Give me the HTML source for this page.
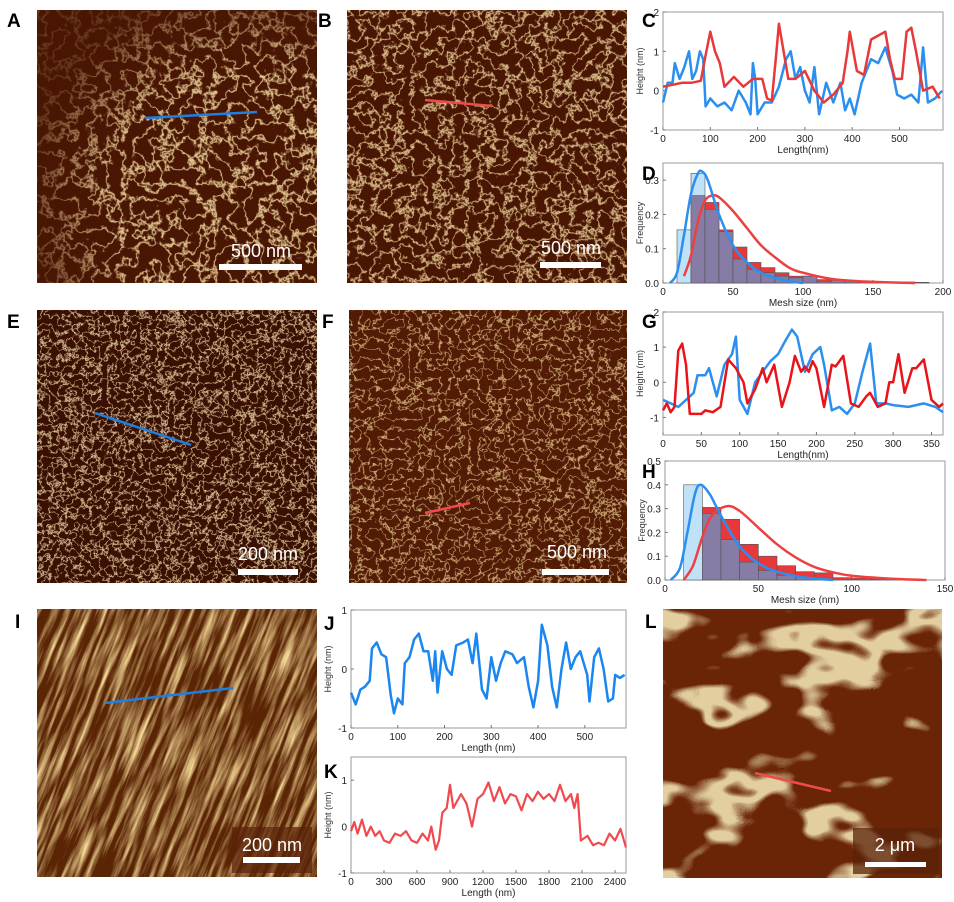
<!DOCTYPE html>
<html><head><meta charset="utf-8">
<style>
html,body{margin:0;padding:0;background:#fff;width:954px;height:902px;overflow:hidden;font-family:"Liberation Sans",Arial,sans-serif}
#fig{position:absolute;left:0;top:0;display:block}
</style></head><body>
<svg id="fig" width="954" height="902" viewBox="0 0 954 902" xmlns="http://www.w3.org/2000/svg">
<defs>
<filter id="fNet" x="0" y="0" width="1" height="1"><feTurbulence type="fractalNoise" baseFrequency="0.065" numOctaves="4" seed="3"/><feColorMatrix type="matrix" values="0 0 0 0 0.9 0 0 0 0 0.7 0 0 0 0 0.35 1.6 0 0 0 -0.3"/><feComponentTransfer><feFuncA type="table" tableValues="0 0 0 0 0 0 0 0.35 0.95 0.35 0 0 0 0 0 0 0"/></feComponentTransfer></filter>
<filter id="fNet2" x="0" y="0" width="1" height="1"><feTurbulence type="fractalNoise" baseFrequency="0.075" numOctaves="4" seed="8"/><feColorMatrix type="matrix" values="0 0 0 0 0.9 0 0 0 0 0.7 0 0 0 0 0.35 1.6 0 0 0 -0.3"/><feComponentTransfer><feFuncA type="table" tableValues="0 0 0 0 0 0 0 0.3 0.9 0.3 0 0 0 0 0 0 0"/></feComponentTransfer></filter>
<filter id="fDense" x="0" y="0" width="1" height="1"><feTurbulence type="fractalNoise" baseFrequency="0.12" numOctaves="4" seed="5"/><feColorMatrix type="matrix" values="0 0 0 0 0.92 0 0 0 0 0.75 0 0 0 0 0.42 1.6 0 0 0 -0.3"/><feComponentTransfer><feFuncA type="table" tableValues="0 0 0 0 0 0 0 0.3 0.9 0.3 0 0 0 0 0 0 0"/></feComponentTransfer></filter>
<filter id="fThin" x="0" y="0" width="1" height="1"><feTurbulence type="fractalNoise" baseFrequency="0.1" numOctaves="3" seed="11"/><feColorMatrix type="matrix" values="0 0 0 0 0.86 0 0 0 0 0.64 0 0 0 0 0.3 1.6 0 0 0 -0.3"/><feComponentTransfer><feFuncA type="table" tableValues="0 0 0 0 0 0 0 0.15 0.85 0.15 0 0 0 0 0 0 0"/></feComponentTransfer></filter>
<filter id="fStreak" x="0" y="0" width="1" height="1"><feTurbulence type="fractalNoise" baseFrequency="0.015 0.2" numOctaves="4" seed="4"/><feColorMatrix type="matrix" values="0 0 0 0 0.9 0 0 0 0 0.68 0 0 0 0 0.3 2.2 0 0 0 -0.85"/></filter>
<filter id="fSheet" x="0" y="0" width="1" height="1"><feTurbulence type="fractalNoise" baseFrequency="0.01 0.018" numOctaves="3" seed="7"/><feColorMatrix type="matrix" values="0 0 0 0 0.76 0 0 0 0 0.62 0 0 0 0 0.35 1 0 0 0 0"/><feComponentTransfer><feFuncA type="table" tableValues="0 0 0 0 0 0 0 0 0 1 1 0 0 0 0 0"/></feComponentTransfer></filter>
<radialGradient id="gA" cx="0.75" cy="0.7" r="0.8"><stop offset="0.6" stop-color="#fff"/><stop offset="1" stop-color="#333"/></radialGradient>
<mask id="mA"><rect x="37" y="10" width="280" height="273" fill="url(#gA)"/></mask>
<clipPath id="cI"><rect x="37" y="609" width="280" height="268"/></clipPath>
</defs>

<g>
<rect x="37" y="10" width="280" height="273" fill="#4a1604"/>
<rect x="37" y="10" width="280" height="273" filter="url(#fNet)" mask="url(#mA)"/>
<line x1="145" y1="118" x2="257" y2="112" stroke="#1e7fe0" stroke-width="2.5"/>
<text x="261" y="257" font-size="18" fill="#fff" text-anchor="middle">500 nm</text>
<rect x="219" y="264" width="83" height="6" fill="#fff"/>
</g>
<g>
<rect x="347" y="10" width="280" height="273" fill="#4a1604"/>
<rect x="347" y="10" width="280" height="273" filter="url(#fNet2)"/>
<line x1="425" y1="100" x2="492" y2="106" stroke="#ee4b4b" stroke-width="2.5"/>
<text x="571" y="254" font-size="18" fill="#fff" text-anchor="middle">500 nm</text>
<rect x="540" y="262" width="61" height="6" fill="#fff"/>
</g>
<g>
<rect x="37" y="310" width="280" height="273" fill="#3a1003"/>
<rect x="37" y="310" width="280" height="273" filter="url(#fDense)"/>
<line x1="95" y1="413" x2="191" y2="445" stroke="#1e7fe0" stroke-width="2.5"/>
<text x="268" y="560" font-size="18" fill="#fff" text-anchor="middle">200 nm</text>
<rect x="238" y="569" width="60" height="6" fill="#fff"/>
</g>
<g>
<rect x="349" y="310" width="278" height="273" fill="#521b05"/>
<rect x="349" y="310" width="278" height="273" filter="url(#fThin)"/>
<line x1="425" y1="513" x2="470" y2="503" stroke="#ee4b4b" stroke-width="2.5"/>
<text x="577" y="558" font-size="18" fill="#fff" text-anchor="middle">500 nm</text>
<rect x="542" y="569" width="67" height="6" fill="#fff"/>
</g>
<g clip-path="url(#cI)">
<rect x="37" y="609" width="280" height="268" fill="#5a2505"/>
<rect x="-30" y="560" width="420" height="380" filter="url(#fStreak)" transform="rotate(-68 177 743)"/>
<line x1="105" y1="703" x2="233" y2="688" stroke="#1e7fe0" stroke-width="2.5"/>
<rect x="232" y="827" width="80" height="46" fill="#5a2108" opacity="0.7"/>
<text x="272" y="851" font-size="18" fill="#fff" text-anchor="middle">200 nm</text>
<rect x="243" y="857" width="57" height="6" fill="#fff"/>
</g>
<g>
<rect x="663" y="609" width="279" height="269" fill="#6a2507"/>
<rect x="663" y="609" width="279" height="269" filter="url(#fSheet)"/>
<line x1="755" y1="773" x2="831" y2="791" stroke="#ee4b4b" stroke-width="2.5"/>
<rect x="853" y="828" width="86" height="46" fill="#5a2108" opacity="0.75"/>
<text x="895" y="851" font-size="18" fill="#fff" text-anchor="middle">2 μm</text>
<rect x="865" y="862" width="61" height="5" fill="#fff"/>
</g>

<g font-weight="bold" font-size="19" fill="#000">
<text x="7" y="27">A</text>
<text x="318" y="27">B</text>
<text x="642" y="27">C</text>
<text x="642" y="180">D</text>
<text x="7" y="328">E</text>
<text x="322" y="328">F</text>
<text x="642" y="328">G</text>
<text x="642" y="478">H</text>
<text x="15" y="628">I</text>
<text x="324" y="630">J</text>
<text x="324" y="778">K</text>
<text x="645" y="628">L</text>
</g>
<g id="charts"></g>
</svg>
<script>
const cRedX=[0,20,40,60,80,90,100,110,120,130,150,170,190,210,220,230,240,245,255,265,280,300,320,340,360,380,390,395,410,425,440,455,470,480,490,505,515,525,535,550,570,585];
const cRedY=[0.1,0.15,0.2,0.2,0.25,0.9,1.5,1.0,0.7,0.1,0.35,0.1,0.3,0.3,-0.2,-0.25,1.0,1.7,1.0,0.3,0.3,0.5,0.0,-0.3,-0.1,0.2,1.0,1.5,0.5,0.4,1.3,1.4,1.5,0.8,0.3,0.3,1.5,1.6,1.0,0.0,0.1,-0.2];
const cBlueX=[0,10,20,25,35,45,55,62,70,78,85,90,100,115,130,145,160,175,185,190,195,200,215,230,245,260,270,280,290,300,310,320,330,345,360,375,385,395,405,420,440,455,470,485,495,510,525,540,550,560,575,590];
const cBlueY=[-0.3,0.2,0.2,0.7,0.3,0.6,1.0,0.3,0.5,1.0,0.8,-0.4,-0.2,-0.4,-0.3,-0.5,0.0,-0.3,-0.6,0.7,0.3,-0.6,-0.3,-0.3,0.1,0.8,1.0,0.3,0.6,0.0,-0.3,0.6,-0.6,0.2,-0.3,0.2,-0.5,-0.2,-0.6,0.2,0.8,0.7,1.1,0.5,-0.1,-0.2,-0.1,-0.3,1.1,-0.3,-0.2,0.0];
const dBinStart=[10,20,30,40,50,60,70,80,90,100,110,120,130,140,150,160,170,180];
const dBlue=[0.155,0.32,0.215,0.15,0.07,0.04,0.03,0.02,0.015,0.02,0.005,0.01,0.005,0,0,0,0,0];
const dRed=[0,0.255,0.235,0.155,0.105,0.06,0.045,0.03,0.02,0.02,0.01,0.008,0.006,0.005,0.004,0.003,0.003,0.002];
const dFitBlueX=[5,10,15,20,25,28,32,40,50,60,70,80,90,100];
const dFitBlueY=[0,0.03,0.14,0.26,0.32,0.325,0.3,0.2,0.11,0.06,0.03,0.015,0.005,0];
const dFitRedX=[15,20,25,30,35,40,50,60,70,80,90,100,120,140,160,180];
const dFitRedY=[0.02,0.08,0.18,0.24,0.255,0.25,0.21,0.16,0.11,0.075,0.045,0.03,0.012,0.005,0.002,0];
const gRedX=[0,5,10,15,20,25,30,35,50,55,65,75,85,95,105,110,120,130,135,145,155,165,172,180,185,190,195,200,210,220,225,235,245,255,265,270,280,290,295,300,307,315,325,330,340,350,360,365];
const gRedY=[-0.8,-0.6,-0.85,-0.7,0.9,1.1,0.5,-0.9,-0.9,-0.8,-0.85,-0.7,0.65,0.4,0.0,-0.6,-0.2,0.4,0.0,0.5,-0.7,0.0,0.75,0.3,0.45,0.3,0.6,0.4,-0.7,0.5,0.45,0.75,-0.6,-0.7,-0.4,-0.3,-0.7,-0.6,0.0,0.0,0.8,-0.3,0.4,0.4,0.65,-0.5,-0.7,-0.6];
const gBlueX=[0,10,20,30,40,45,55,60,70,80,90,95,100,110,120,130,140,150,160,168,175,185,195,205,210,220,230,240,250,260,270,278,290,300,320,340,355,365];
const gBlueY=[-0.5,-0.6,-0.7,-0.5,-0.3,0.2,0.2,0.4,-0.4,0.5,0.8,1.3,-0.5,-0.9,0.0,0.3,0.6,0.8,1.2,1.5,1.3,0.3,0.8,1.0,0.5,-0.8,-0.7,-0.9,-0.6,0.3,1.1,-0.6,-0.6,-0.65,-0.7,-0.6,-0.7,-0.85];
const hBinStart=[10,20,30,40,50,60,70,80,90,100,110,120,130];
const hBlue=[0.4,0.28,0.17,0.075,0.04,0.02,0.01,0.005,0,0,0,0,0];
const hRed=[0,0.305,0.255,0.15,0.1,0.06,0.035,0.03,0.01,0.008,0.005,0.003,0.002];
const hFitBlueX=[3,8,12,16,19,24,30,40,50,60,75,90];
const hFitBlueY=[0,0.05,0.2,0.36,0.4,0.36,0.27,0.14,0.07,0.035,0.01,0];
const hFitRedX=[10,15,20,25,33,40,50,60,70,80,90,100,120,140];
const hFitRedY=[0,0.06,0.18,0.27,0.31,0.29,0.22,0.15,0.095,0.055,0.032,0.018,0.006,0];
const jX=[0,10,20,30,40,45,55,65,75,85,92,100,110,115,125,135,145,155,165,175,180,185,195,205,215,225,240,250,260,268,280,290,300,310,320,330,345,355,370,380,390,400,408,420,430,440,450,460,470,480,490,505,510,520,530,540,550,560,565,575,585];
const jY=[-0.4,-0.6,-0.35,-0.3,-0.2,0.35,0.45,0.25,0.2,-0.45,-0.75,-0.5,-0.6,0.1,0.2,0.5,0.6,0.3,0.3,-0.2,0.3,-0.4,0.3,0.0,-0.1,0.4,0.45,0.5,0.1,0.6,-0.35,-0.5,0.2,-0.2,0.1,0.3,0.25,0.1,0.2,-0.3,-0.65,-0.2,0.75,0.4,-0.3,-0.65,0.0,0.45,0.0,0.2,0.3,-0.1,-0.55,0.2,0.35,0.0,-0.55,-0.5,-0.1,-0.15,-0.1];
const kX=[0,30,60,100,140,180,220,260,300,350,400,450,500,550,600,650,700,730,770,800,830,870,900,930,1000,1050,1100,1150,1200,1250,1300,1350,1400,1450,1500,1550,1600,1650,1700,1750,1800,1850,1900,1950,2000,2030,2060,2090,2150,2200,2250,2300,2350,2400,2450,2500];
const kY=[-0.1,0.1,-0.15,0.15,-0.2,0.0,-0.2,-0.1,-0.3,-0.35,-0.15,-0.2,-0.1,-0.3,-0.35,-0.15,-0.3,0.0,-0.5,-0.3,0.3,0.4,0.9,0.4,0.7,0.5,0.0,0.6,0.7,0.95,0.55,0.85,0.5,0.7,0.65,0.35,0.7,0.55,0.75,0.6,0.7,0.55,0.9,0.55,0.7,0.4,0.7,-0.3,-0.2,-0.4,-0.35,-0.4,-0.15,-0.3,-0.05,-0.45];
const cTicksX=[0,100,200,300,400,500], cTicksY=[-1,0,1,2];
const dTicksX=[0,50,100,150,200], dTicksY=[0.0,0.1,0.2,0.3];
const gTicksX=[0,50,100,150,200,250,300,350], gTicksY=[-1,0,1,2];
const hTicksX=[0,50,100,150], hTicksY=[0.0,0.1,0.2,0.3,0.4,0.5];
const jTicksX=[0,100,200,300,400,500], jTicksY=[-1,0,1];
const kTicksX=[0,300,600,900,1200,1500,1800,2100,2400], kTicksY=[-1,0,1];

const NS='http://www.w3.org/2000/svg';
const root=document.getElementById('charts');
function mk(tag,attrs,parent){const e=document.createElementNS(NS,tag);for(const k in attrs)e.setAttribute(k,attrs[k]);(parent||root).appendChild(e);return e;}
function axes(name,x0,y0,x1,y1,xmin,xmax,ymin,ymax,tx,ty,xlab,ylab,fmtY){
  const g=mk('g',{});
  
  
  const sx=v=>x0+(v-xmin)/(xmax-xmin)*(x1-x0), sy=v=>y1-(v-ymin)/(ymax-ymin)*(y1-y0);
  const box=mk('rect',{x:x0,y:y0,width:x1-x0,height:y1-y0,fill:'#fff',stroke:'#9a9a9a','stroke-width':1},g);
  
  
  tx.forEach(v=>{const X=sx(v);mk('line',{x1:X,y1:y1,x2:X,y2:y1-3,stroke:'#777'},g);
    const t=mk('text',{x:X,y:y1+12,'font-size':10,'text-anchor':'middle',fill:'#222'},g);t.textContent=v;
    
    });
  ty.forEach(v=>{const Y=sy(v);mk('line',{x1:x0,y1:Y,x2:x0+3,y2:Y,stroke:'#777'},g);
    const t=mk('text',{x:x0-4,y:Y+4,'font-size':10,'text-anchor':'end',fill:'#222'},g);t.textContent=fmtY?fmtY(v):v;
    
    });
  const xl=mk('text',{x:(x0+x1)/2,y:y1+23,'font-size':10,'text-anchor':'middle',fill:'#222'},g);xl.textContent=xlab;
  
  
  const yc=(y0+y1)/2, yx=x0-20;
  const yl=mk('text',{x:yx,y:yc,'font-size':9,'text-anchor':'middle',fill:'#333',transform:`rotate(-90 ${yx} ${yc})`},g);yl.textContent=ylab;
  
  
  return {g,sx,sy};
}
function line(ax,xs,ys,color,w,name){
  const d=xs.map((x,i)=>(i?'L':'M')+ax.sx(x).toFixed(1)+' '+ax.sy(ys[i]).toFixed(1)).join(' ');
  const p=mk('path',{d:d,fill:'none',stroke:color,'stroke-width':w,'stroke-linejoin':'round'},ax.g);
  
  
}
function smooth(ax,xs,ys,color,w,name){
  const P=xs.map((x,i)=>[ax.sx(x),ax.sy(ys[i])]);
  let d='M'+P[0][0]+' '+P[0][1];
  for(let i=0;i<P.length-1;i++){const p0=P[Math.max(0,i-1)],p1=P[i],p2=P[i+1],p3=P[Math.min(P.length-1,i+2)];
    d+=` C${p1[0]+(p2[0]-p0[0])/6} ${p1[1]+(p2[1]-p0[1])/6} ${p2[0]-(p3[0]-p1[0])/6} ${p2[1]-(p3[1]-p1[1])/6} ${p2[0]} ${p2[1]}`;}
  const p=mk('path',{d:d,fill:'none',stroke:color,'stroke-width':w},ax.g);
  
  
}
function hist(ax,starts,blue,red,bw){
  starts.forEach((s,i)=>{const b=blue[i],r=red[i],mx=Math.max(b,r),mn=Math.min(b,r);
    const X=ax.sx(s),W=ax.sx(s+bw)-X;
    if(mx>0){const t=mk('rect',{x:X,y:ax.sy(mx),width:W,height:ax.sy(0)-ax.sy(mx),fill:b>r?'#bfe2f8':'#e8383a',stroke:'#555','stroke-width':0.6},ax.g);
      
      }
    if(mn>0){const o=mk('rect',{x:X,y:ax.sy(mn),width:W,height:ax.sy(0)-ax.sy(mn),fill:'#877ca5',stroke:'#555','stroke-width':0.6},ax.g);
      
      }
  });
}
const f1=v=>v.toFixed(1);
let C=axes('chart-c',663,12,943,130,0,592,-1,2,cTicksX,cTicksY,'Length(nm)','Height (nm)');
line(C,cBlueX,cBlueY,'#2b8ff0',2.5,'profile-blue-c');
line(C,cRedX,cRedY,'#e8383a',2.5,'profile-red-c');
let D=axes('chart-d',663,163,943,283,0,200,0,0.35,dTicksX,dTicksY,'Mesh size (nm)','Frequency',f1);
hist(D,dBinStart,dBlue,dRed,10);
smooth(D,dFitRedX,dFitRedY,'#ee4040',2.5,'fit-red-d');
smooth(D,dFitBlueX,dFitBlueY,'#2b8ff0',2.5,'fit-blue-d');
let G=axes('chart-g',663,312,943,435,0,365,-1.5,2,gTicksX,gTicksY,'Length(nm)','Height (nm)');
line(G,gBlueX,gBlueY,'#2b8ff0',2.5,'profile-blue-g');
line(G,gRedX,gRedY,'#e8141a',2.5,'profile-red-g');
let H=axes('chart-h',665,461,945,580,0,150,0,0.5,hTicksX,hTicksY,'Mesh size (nm)','Frequency',f1);
hist(H,hBinStart,hBlue,hRed,10);
smooth(H,hFitRedX,hFitRedY,'#ee4040',2.5,'fit-red-h');
smooth(H,hFitBlueX,hFitBlueY,'#2b8ff0',2.5,'fit-blue-h');
let J=axes('chart-j',351,610,626,728,0,588,-1,1,jTicksX,jTicksY,'Length (nm)','Height (nm)');
line(J,jX,jY,'#1a86f0',2.5,'profile-j');
let K=axes('chart-k',351,757,626,873,0,2500,-1,1.5,kTicksX,kTicksY,'Length (nm)','Height (nm)');
line(K,kX,kY,'#f04a4e',2.2,'profile-k');
</script>
</body></html>
